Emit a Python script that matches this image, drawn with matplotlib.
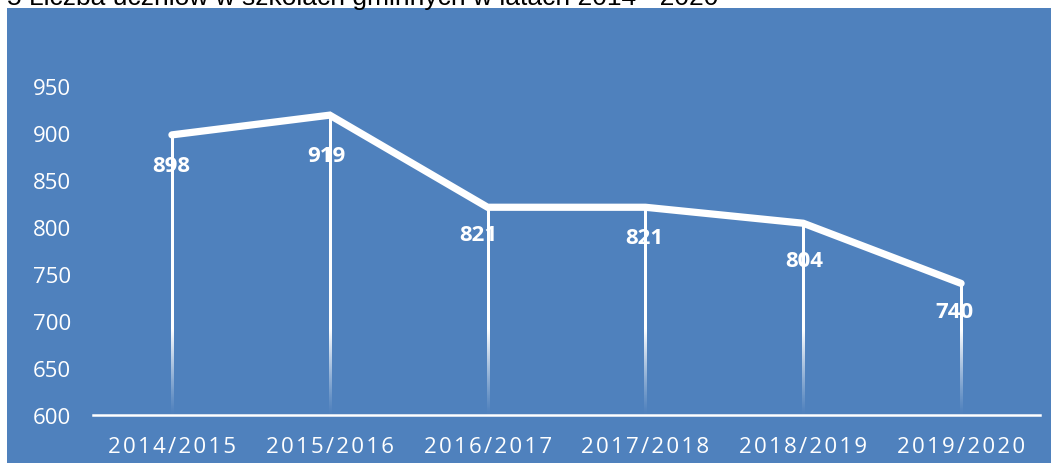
import matplotlib
matplotlib.use("Agg")
import matplotlib.pyplot as plt
import numpy as np
from matplotlib.patches import Rectangle

# ---- data ----
categories = ["2014/2015", "2015/2016", "2016/2017", "2017/2018", "2018/2019", "2019/2020"]
values = [898, 919, 821, 821, 804, 740]
yticks = [600, 650, 700, 750, 800, 850, 900, 950]
title = "5 Liczba uczniów w szkołach gminnych w latach 2014 - 2020"

W, H = 1051, 464
DPI = 100
BLUE = "#4F81BD"

fig = plt.figure(figsize=(W / DPI, H / DPI), dpi=DPI)
fig.patch.set_facecolor("white")
fig.patches.append(Rectangle((7 / W, 0), 1 - 7 / W, 1 - 9 / H, transform=fig.transFigure,
                             facecolor=BLUE, edgecolor="none", zorder=-10))

fig.text(718 / W, 1 - 4.5 / H, title, ha="right", va="baseline", fontsize=19,
         family=["Liberation Sans", "DejaVu Sans"], color="black", zorder=-5)

ax = fig.add_axes([93 / W, 1 - 416 / H, (1040 - 93) / W, (416 - 40) / H])
ax.set_facecolor("none")
x = np.arange(len(categories))

# drop lines: white fading toward the axis (smooth gradient via imshow)
half_w = 1.0 / 157.8  # about 1 px on each side in data units
for xi, v in zip(x, values):
    n = 200
    ys = np.linspace(v, 600, n)  # top row first
    alpha = np.clip((ys - 600) / 90.0, 0.03, 1.0) ** 1.2
    img = np.ones((n, 1, 4))
    img[:, 0, 3] = alpha
    ax.imshow(img, extent=(xi - half_w, xi + half_w, 600, v), aspect="auto",
              interpolation="bilinear", zorder=2)
ax.set_xlim(-0.5, len(categories) - 0.5)
ax.set_ylim(600, 1000)

ax.plot(x, values, color="white", lw=5.2, solid_capstyle="round",
        solid_joinstyle="miter", zorder=3)

lab_font = ["Open Sans", "DejaVu Sans"]
lab_dx = [-1, -3, -9, -1, 1, -7]
lab_dy = [-31, -40, -27, -30, -37, -28]
for xi, v, dx, dy in zip(x, values, lab_dx, lab_dy):
    ax.annotate(str(v), (xi, v), xytext=(dx * 0.72, dy * 0.72), textcoords="offset points",
                ha="center", va="center", color="white", fontsize=16,
                fontweight="bold", family=lab_font, zorder=4)

for s in ["top", "right", "left"]:
    ax.spines[s].set_visible(False)
ax.spines["bottom"].set_color("white")
ax.spines["bottom"].set_linewidth(1.8)
ax.spines["bottom"].set_zorder(5)

ax.set_yticks(yticks)
ax.set_yticklabels([str(t) for t in yticks], color="white", fontsize=16, family=lab_font)
ax.tick_params(axis="y", length=0, pad=16)

sp = "\u200a"
ax.set_xticks(x)
ax.set_xticklabels([sp.join(c) for c in categories], color="white", fontsize=16,
                   family=lab_font)
ax.tick_params(axis="x", length=0, pad=15)

fig.savefig("out.png", dpi=DPI, facecolor=fig.get_facecolor())
